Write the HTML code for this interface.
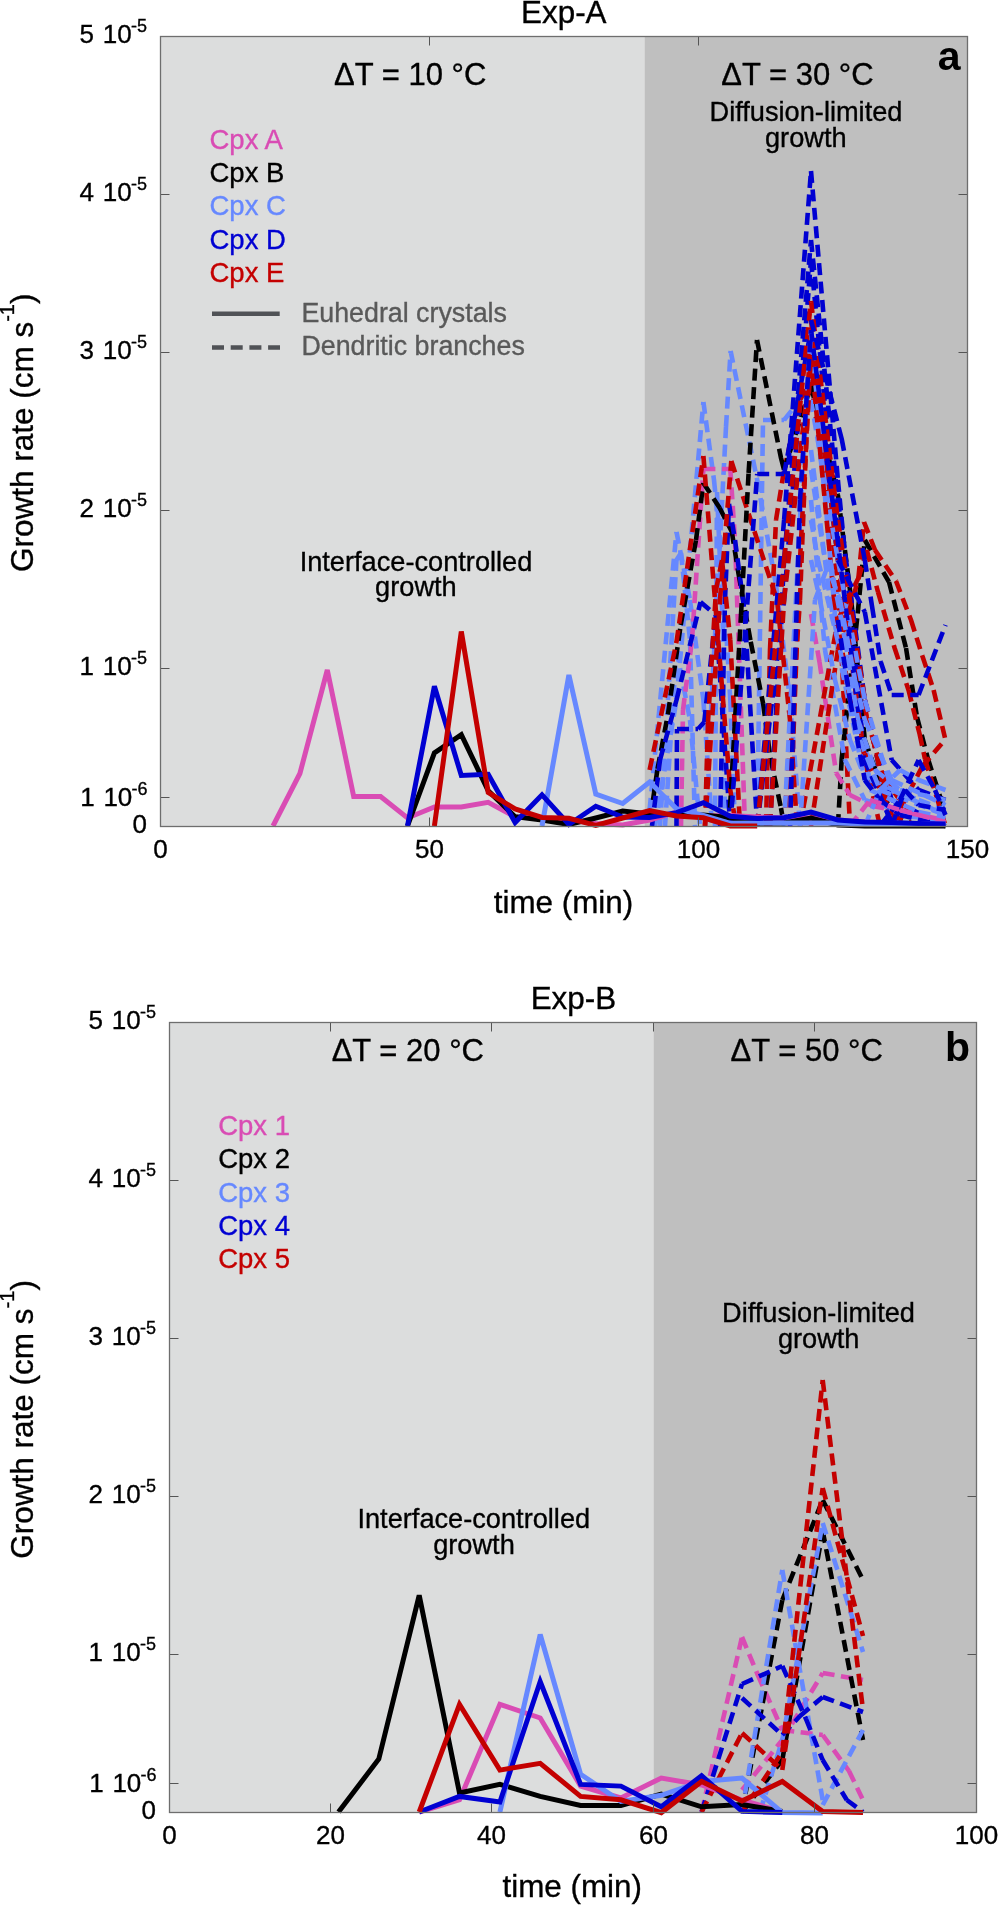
<!DOCTYPE html><html><head><meta charset="utf-8"><style>html,body{margin:0;padding:0;background:#fff;}svg{display:block;}</style></head><body>
<svg width="998" height="1905" viewBox="0 0 998 1905" font-family="'Liberation Sans', sans-serif" style="filter:blur(0.45px)">
<rect x="160.5" y="36.5" width="484.0" height="790.0" fill="#dcdddd"/>
<rect x="644.5" y="36.5" width="323.0" height="790.0" fill="#bfbfbf"/>
<text x="410.2" y="85.2" font-size="31" text-anchor="middle" stroke="#000" stroke-width="0.35">ΔT = 10 °C</text>
<text x="797.5" y="85.3" font-size="31" text-anchor="middle" stroke="#000" stroke-width="0.35">ΔT = 30 °C</text>
<text x="806" y="121" font-size="27.2" text-anchor="middle" stroke="#000" stroke-width="0.35">Diffusion-limited</text>
<text x="805.8" y="147" font-size="27.2" text-anchor="middle" stroke="#000" stroke-width="0.35">growth</text>
<text x="416" y="571.3" font-size="27.2" text-anchor="middle" stroke="#000" stroke-width="0.35">Interface-controlled</text>
<text x="415.9" y="596.4" font-size="27.2" text-anchor="middle" stroke="#000" stroke-width="0.35">growth</text>
<text x="209.5" y="148.6" font-size="27.5" fill="#d94cb4" stroke="#d94cb4" stroke-width="0.35">Cpx A</text>
<text x="209.5" y="181.6" font-size="27.5" stroke="#000" stroke-width="0.35">Cpx B</text>
<text x="209.5" y="215.2" font-size="27.5" fill="#6688ff" stroke="#6688ff" stroke-width="0.35">Cpx C</text>
<text x="209.5" y="248.8" font-size="27.5" fill="#0000d2" stroke="#0000d2" stroke-width="0.35">Cpx D</text>
<text x="209.5" y="282.3" font-size="27.5" fill="#c40000" stroke="#c40000" stroke-width="0.35">Cpx E</text>
<text x="301.4" y="321.9" font-size="26.8" fill="#595959" stroke="#595959" stroke-width="0.35">Euhedral crystals</text>
<text x="301.4" y="355.1" font-size="26.8" fill="#595959" stroke="#595959" stroke-width="0.35">Dendritic branches</text>
<polyline points="212.0,313.8 279.7,313.8" stroke="#505256" stroke-width="4.6"/>
<polyline points="212.0,347.5 280.0,347.5" stroke="#505256" stroke-width="4.6" stroke-dasharray="12 6.7"/>
<g fill="none" stroke-linejoin="miter" stroke-miterlimit="4" stroke-linecap="butt">
<path d="M649.6,810.0L676.5,532.0M676.5,532.0L690.0,600.0M690.0,600.0L703.4,700.0M703.4,700.0L712.0,826.0" stroke="#6688ff" stroke-width="4.6" stroke-dasharray="12 6.5"/>
<path d="M655.0,826.0L676.5,700.0M676.5,700.0L703.4,402.0M703.4,402.0L714.0,480.0M714.0,480.0L722.0,560.0M722.0,560.0L730.3,700.0M730.3,700.0L735.0,826.0" stroke="#6688ff" stroke-width="4.6" stroke-dasharray="12 6.5"/>
<path d="M705.0,826.0L726.0,427.0M726.0,427.0L730.6,351.0M730.6,351.0L757.2,480.0M757.2,480.0L776.0,585.0M776.0,585.0L790.0,700.0M790.0,700.0L800.0,826.0" stroke="#6688ff" stroke-width="4.6" stroke-dasharray="12 6.5"/>
<path d="M660.0,826.0L668.0,700.0M668.0,700.0L676.5,560.0M676.5,560.0L681.0,553.0M681.0,553.0L690.0,640.0M690.0,640.0L695.0,826.0" stroke="#6688ff" stroke-width="4.6" stroke-dasharray="12 6.5"/>
<path d="M665.0,826.0L676.5,650.0M676.5,650.0L690.0,720.0M690.0,720.0L700.0,826.0" stroke="#6688ff" stroke-width="4.6" stroke-dasharray="12 6.5"/>
<path d="M715.0,826.0L717.0,492.0M717.0,492.0L723.0,630.0M723.0,630.0L725.0,826.0" stroke="#6688ff" stroke-width="4.6" stroke-dasharray="12 6.5"/>
<path d="M757.2,826.0L763.0,420.0M763.0,420.0L784.1,420.0M784.1,420.0L800.0,400.0M800.0,400.0L811.0,380.0M811.0,380.0L837.9,600.0M837.9,600.0L864.8,750.0M864.8,750.0L891.7,800.0M891.7,800.0L945.5,826.0" stroke="#6688ff" stroke-width="4.6" stroke-dasharray="12 6.5"/>
<path d="M681.0,826.0L683.0,710.0M683.0,710.0L692.0,640.0M692.0,640.0L703.4,469.0M703.4,469.0L730.3,469.0M730.3,469.0L735.0,540.0M735.0,540.0L745.0,826.0" stroke="#d94cb4" stroke-width="4.6" stroke-dasharray="12 6.5"/>
<path d="M653.0,800.0L657.5,769.0M657.5,769.0L668.0,714.0M668.0,714.0L680.7,625.0M680.7,625.0L696.0,540.0M696.0,540.0L703.4,483.0M703.4,483.0L719.7,508.0M719.7,508.0L731.8,531.7M731.8,531.7L738.5,573.7M738.5,573.7L750.7,641.8M750.7,641.8L763.2,704.0M763.2,704.0L770.4,758.0M770.4,758.0L781.0,808.0M781.0,808.0L784.0,826.0" stroke="#000000" stroke-width="4.6" stroke-dasharray="12 6.5"/>
<path d="M652.0,826.0L660.0,760.0M660.0,760.0L676.5,700.0M676.5,700.0L700.5,602.0M700.5,602.0L715.7,615.0M715.7,615.0L730.3,826.0" stroke="#0000d2" stroke-width="4.6" stroke-dasharray="12 6.5"/>
<path d="M676.5,826.0L677.0,729.0M677.0,729.0L698.0,729.0M698.0,729.0L704.3,722.0M704.3,722.0L715.7,615.0" stroke="#0000d2" stroke-width="4.6" stroke-dasharray="12 6.5"/>
<path d="M720.0,826.0L725.0,600.0M725.0,600.0L729.0,504.0M729.0,504.0L735.0,540.0M735.0,540.0L744.6,612.0M744.6,612.0L757.2,826.0" stroke="#0000d2" stroke-width="4.6" stroke-dasharray="12 6.5"/>
<path d="M649.6,770.0L676.5,642.0M676.5,642.0L703.4,456.0M703.4,456.0L730.3,790.0M730.3,790.0L736.0,826.0" stroke="#c40000" stroke-width="4.6" stroke-dasharray="12 6.5"/>
<path d="M705.0,826.0L720.0,600.0M720.0,600.0L731.3,461.0M731.3,461.0L777.0,600.0M777.0,600.0L790.0,720.0M790.0,720.0L797.0,826.0" stroke="#c40000" stroke-width="4.6" stroke-dasharray="12 6.5"/>
<path d="M705.0,826.0L708.0,722.0M708.0,722.0L716.0,590.0M716.0,590.0L722.0,560.0M722.0,560.0L730.3,640.0M730.3,640.0L740.0,826.0" stroke="#c40000" stroke-width="4.6" stroke-dasharray="12 6.5"/>
<path d="M766.0,826.0L770.0,650.0M770.0,650.0L776.0,520.0M776.0,520.0L784.1,470.0M784.1,470.0L800.0,400.0M800.0,400.0L811.0,380.0M811.0,380.0L837.9,580.0M837.9,580.0L850.0,826.0" stroke="#c40000" stroke-width="4.6" stroke-dasharray="12 6.5"/>
<path d="M729.0,826.0L741.0,615.0M741.0,615.0L748.6,473.0M748.6,473.0L757.0,340.0M757.0,340.0L781.0,458.0M781.0,458.0L784.1,470.0M784.1,470.0L811.0,386.0M811.0,386.0L837.9,495.0M837.9,495.0L851.0,598.0M851.0,598.0L864.8,740.0M864.8,740.0L891.7,815.0M891.7,815.0L918.0,826.0" stroke="#000000" stroke-width="4.6" stroke-dasharray="12 6.5"/>
<path d="M837.9,826.0L841.7,759.0M841.7,759.0L857.7,613.5M857.7,613.5L864.8,540.0M864.8,540.0L889.0,582.0M889.0,582.0L906.0,648.0M906.0,648.0L917.0,717.0M917.0,717.0L928.0,759.0M928.0,759.0L945.0,812.0" stroke="#000000" stroke-width="4.6" stroke-dasharray="12 6.5"/>
<path d="M757.2,826.0L784.1,520.0M784.1,520.0L811.0,171.0M811.0,171.0L837.9,480.0M837.9,480.0L864.8,760.0M864.8,760.0L891.7,823.0" stroke="#0000d2" stroke-width="4.6" stroke-dasharray="12 6.5"/>
<path d="M770.0,826.0L784.1,560.0M784.1,560.0L811.0,240.0M811.0,240.0L837.9,500.0M837.9,500.0L864.8,700.0M864.8,700.0L891.7,826.0" stroke="#0000d2" stroke-width="4.6" stroke-dasharray="12 6.5"/>
<path d="M757.2,826.0L784.1,600.0M784.1,600.0L811.0,260.0M811.0,260.0L837.9,540.0M837.9,540.0L864.8,759.0M864.8,759.0L891.8,823.0" stroke="#0000d2" stroke-width="4.6" stroke-dasharray="12 6.5"/>
<path d="M730.3,826.0L757.2,474.0M757.2,474.0L784.1,474.0M784.1,474.0L811.0,330.0M811.0,330.0L837.9,560.0M837.9,560.0L864.8,700.0M864.8,700.0L891.7,800.0M891.7,800.0L945.5,826.0" stroke="#0000d2" stroke-width="4.6" stroke-dasharray="12 6.5"/>
<path d="M757.2,826.0L784.1,560.0M784.1,560.0L811.0,301.0M811.0,301.0L837.9,520.0M837.9,520.0L864.8,700.0M864.8,700.0L891.7,826.0" stroke="#c40000" stroke-width="4.6" stroke-dasharray="12 6.5"/>
<path d="M770.0,826.0L784.1,600.0M784.1,600.0L811.0,355.0M811.0,355.0L841.7,578.0M841.7,578.0L866.8,717.0M866.8,717.0L883.5,778.0M883.5,778.0L917.0,823.0" stroke="#c40000" stroke-width="4.6" stroke-dasharray="12 6.5"/>
<path d="M784.1,826.0L800.0,600.0M800.0,600.0L811.0,320.0M811.0,320.0L837.9,560.0M837.9,560.0L864.8,760.0M864.8,760.0L880.0,826.0" stroke="#c40000" stroke-width="4.6" stroke-dasharray="12 6.5"/>
<path d="M784.1,826.0L800.0,520.0M800.0,520.0L811.0,330.0M811.0,330.0L837.9,650.0M837.9,650.0L864.8,780.0M864.8,780.0L891.7,815.0M891.7,815.0L945.5,820.0" stroke="#6688ff" stroke-width="4.6" stroke-dasharray="12 6.5"/>
<path d="M811.0,400.0L837.9,560.0M837.9,560.0L864.8,700.0M864.8,700.0L891.7,790.0M891.7,790.0L945.5,815.0" stroke="#6688ff" stroke-width="4.6" stroke-dasharray="12 6.5"/>
<path d="M811.0,450.0L830.0,600.0M830.0,600.0L850.0,700.0M850.0,700.0L870.0,780.0M870.0,780.0L918.6,800.0M918.6,800.0L945.5,810.0" stroke="#6688ff" stroke-width="4.6" stroke-dasharray="12 6.5"/>
<path d="M811.0,500.0L825.0,650.0M825.0,650.0L845.0,760.0M845.0,760.0L864.8,800.0M864.8,800.0L945.5,826.0" stroke="#6688ff" stroke-width="4.6" stroke-dasharray="12 6.5"/>
<path d="M811.0,614.0L819.5,662.0M819.5,662.0L827.8,717.0M827.8,717.0L836.2,773.0M836.2,773.0L850.0,795.0M850.0,795.0L872.3,806.0M872.3,806.0L945.5,820.0" stroke="#d94cb4" stroke-width="4.6" stroke-dasharray="12 6.5"/>
<path d="M800.0,826.0L837.9,620.0M837.9,620.0L858.4,578.0M858.4,578.0L864.0,522.0M864.0,522.0L875.0,550.0M875.0,550.0L896.0,581.0M896.0,581.0L911.0,620.0M911.0,620.0L922.4,656.0M922.4,656.0L933.6,690.0M933.6,690.0L946.0,742.0" stroke="#c40000" stroke-width="4.6" stroke-dasharray="12 6.5"/>
<path d="M811.0,826.0L837.9,650.0M837.9,650.0L866.8,550.0M866.8,550.0L878.0,592.0M878.0,592.0L894.6,648.0M894.6,648.0L908.5,690.0M908.5,690.0L919.6,734.0M919.6,734.0L925.0,759.0M925.0,759.0L945.5,826.0" stroke="#c40000" stroke-width="4.6" stroke-dasharray="12 6.5"/>
<path d="M891.7,826.0L922.0,767.0M922.0,767.0L944.7,740.0" stroke="#c40000" stroke-width="4.6" stroke-dasharray="12 6.5"/>
<path d="M811.0,320.0L841.7,439.0M841.7,439.0L864.8,560.0M864.8,560.0L872.0,606.0M872.0,606.0L880.7,661.7M880.7,661.7L891.7,695.0M891.7,695.0L918.6,695.0M918.6,695.0L945.5,625.0" stroke="#0000d2" stroke-width="4.6" stroke-dasharray="12 6.5"/>
<path d="M837.9,560.0L864.8,612.0M864.8,612.0L891.7,760.0M891.7,760.0L918.6,790.0M918.6,790.0L945.5,800.0" stroke="#0000d2" stroke-width="4.6" stroke-dasharray="12 6.5"/>
<path d="M790.0,826.0L800.0,560.0M800.0,560.0L811.0,355.0M811.0,355.0L834.0,598.0M834.0,598.0L850.0,700.0M850.0,700.0L866.8,760.0M866.8,760.0L891.7,815.0M891.7,815.0L918.0,826.0" stroke="#c40000" stroke-width="4.6" stroke-dasharray="12 6.5"/>
<path d="M790.0,826.0L800.0,500.0M800.0,500.0L811.0,330.0M811.0,330.0L837.0,535.0M837.0,535.0L864.0,759.0M864.0,759.0L892.0,823.0" stroke="#0000d2" stroke-width="4.6" stroke-dasharray="12 6.5"/>
<path d="M811.0,560.0L820.0,600.0M820.0,600.0L835.0,680.0M835.0,680.0L850.0,740.0M850.0,740.0L870.0,790.0M870.0,790.0L918.6,812.0M918.6,812.0L945.5,818.0" stroke="#6688ff" stroke-width="4.6" stroke-dasharray="12 6.5"/>
<path d="M811.0,470.0L825.0,560.0M825.0,560.0L840.0,600.0M840.0,600.0L855.0,680.0M855.0,680.0L864.8,720.0M864.8,720.0L891.7,780.0M891.7,780.0L945.5,805.0" stroke="#6688ff" stroke-width="4.6" stroke-dasharray="12 6.5"/>
<path d="M811.0,520.0L818.0,560.0M818.0,560.0L840.0,650.0M840.0,650.0L860.0,740.0M860.0,740.0L880.0,790.0M880.0,790.0L945.5,815.0" stroke="#6688ff" stroke-width="4.6" stroke-dasharray="12 6.5"/>
<path d="M800.0,826.0L815.0,600.0M815.0,600.0L830.0,560.0M830.0,560.0L845.0,640.0M845.0,640.0L858.0,720.0M858.0,720.0L875.0,770.0M875.0,770.0L900.0,790.0M900.0,790.0L945.5,800.0" stroke="#6688ff" stroke-width="4.6" stroke-dasharray="12 6.5"/>
<path d="M837.9,620.0L850.0,700.0M850.0,700.0L864.8,780.0M864.8,780.0L880.0,800.0M880.0,800.0L900.0,815.0M900.0,815.0L945.5,826.0" stroke="#0000d2" stroke-width="4.6" stroke-dasharray="12 6.5"/>
<path d="M864.8,826.0L880.0,790.0M880.0,790.0L900.0,770.0M900.0,770.0L918.6,780.0M918.6,780.0L945.5,790.0" stroke="#6688ff" stroke-width="4.6" stroke-dasharray="12 6.5"/>
<path d="M880.0,826.0L900.0,800.0M900.0,800.0L918.6,760.0M918.6,760.0L935.0,790.0M935.0,790.0L945.5,815.0" stroke="#0000d2" stroke-width="4.6" stroke-dasharray="12 6.5"/>
<path d="M891.7,826.0L905.0,790.0M905.0,790.0L918.6,805.0M918.6,805.0L945.5,810.0" stroke="#0000d2" stroke-width="4.6" stroke-dasharray="12 6.5"/>
<path d="M850.0,826.0L870.0,800.0M870.0,800.0L900.0,810.0M900.0,810.0L945.5,822.0" stroke="#d94cb4" stroke-width="4.6" stroke-dasharray="12 6.5"/>
<polyline points="273.0,826.0 299.9,773.5 327.3,670.0 353.7,796.5 380.6,796.5 407.5,818.0 434.4,807.0 461.3,807.0 488.2,802.4 515.1,816.7 542.0,818.0 568.9,820.0 595.8,823.5 622.7,825.0 649.6,820.0 676.5,812.0 703.4,816.0 730.3,815.6 757.2,817.0 784.1,818.0 811.0,818.0 837.9,820.0 864.8,822.0 891.7,823.0 918.6,824.0 945.5,824.0" stroke="#d94cb4" stroke-width="5"/>
<polyline points="407.5,826.0 434.4,752.9 461.3,734.6 488.2,790.7 515.1,816.7 542.0,820.0 568.9,824.5 595.8,818.0 622.7,811.0 649.6,814.0 676.5,814.7 703.4,814.9 730.3,817.7 757.2,823.3 784.1,823.0 811.0,818.0 837.9,825.0 864.8,826.0 891.7,826.0 918.6,826.0 945.5,826.0" stroke="#000000" stroke-width="5"/>
<polyline points="542.0,826.0 568.9,675.0 595.8,794.0 622.7,803.5 649.6,782.0 676.5,808.8 703.4,815.3 730.3,823.3 757.2,823.0 784.1,823.0 811.0,823.0 837.9,823.0 864.8,824.0 891.7,824.0 918.6,824.0 945.5,824.0" stroke="#6688ff" stroke-width="5"/>
<polyline points="407.5,826.0 434.4,686.3 461.3,775.5 488.2,774.2 515.1,822.5 542.0,794.8 568.9,824.5 595.8,806.3 622.7,817.0 649.6,817.5 676.5,812.7 703.4,802.7 730.3,816.3 757.2,818.4 784.1,817.7 811.0,812.0 837.9,820.0 864.8,822.0 891.7,822.5 918.6,823.5 945.5,824.0" stroke="#0000d2" stroke-width="5"/>
<polyline points="434.4,826.0 461.3,631.5 488.2,792.5 515.1,809.0 542.0,817.5 568.9,818.3 595.8,825.5 622.7,818.0 649.6,810.5 676.5,816.0 703.4,817.8 730.3,826.0 757.2,826.0" stroke="#c40000" stroke-width="5"/>
</g>
<line x1="429.5" y1="826.5" x2="429.5" y2="817.5" stroke="#555555" stroke-width="1"/>
<line x1="429.5" y1="36.5" x2="429.5" y2="45.5" stroke="#555555" stroke-width="1"/>
<line x1="698.5" y1="826.5" x2="698.5" y2="817.5" stroke="#555555" stroke-width="1"/>
<line x1="698.5" y1="36.5" x2="698.5" y2="45.5" stroke="#555555" stroke-width="1"/>
<line x1="160.5" y1="194.5" x2="169.5" y2="194.5" stroke="#555555" stroke-width="1"/>
<line x1="967.5" y1="194.5" x2="958.5" y2="194.5" stroke="#555555" stroke-width="1"/>
<line x1="160.5" y1="352.5" x2="169.5" y2="352.5" stroke="#555555" stroke-width="1"/>
<line x1="967.5" y1="352.5" x2="958.5" y2="352.5" stroke="#555555" stroke-width="1"/>
<line x1="160.5" y1="510.5" x2="169.5" y2="510.5" stroke="#555555" stroke-width="1"/>
<line x1="967.5" y1="510.5" x2="958.5" y2="510.5" stroke="#555555" stroke-width="1"/>
<line x1="160.5" y1="668.5" x2="169.5" y2="668.5" stroke="#555555" stroke-width="1"/>
<line x1="967.5" y1="668.5" x2="958.5" y2="668.5" stroke="#555555" stroke-width="1"/>
<line x1="160.5" y1="797.5" x2="169.5" y2="797.5" stroke="#555555" stroke-width="1"/>
<line x1="967.5" y1="797.5" x2="958.5" y2="797.5" stroke="#555555" stroke-width="1"/>
<rect x="160.5" y="36.5" width="807.0" height="790.0" fill="none" stroke="#6e6e6e" stroke-width="1.3"/>
<text x="960.5" y="70" font-size="41" text-anchor="end" font-weight="bold">a</text>
<text x="94.0" y="43" font-size="26" text-anchor="end" stroke="#000" stroke-width="0.35">5</text>
<text x="131.7" y="43" font-size="26" text-anchor="end" stroke="#000" stroke-width="0.35">10</text>
<text x="131.0" y="32" font-size="18" stroke="#000" stroke-width="0.35">-5</text>
<text x="94.0" y="201" font-size="26" text-anchor="end" stroke="#000" stroke-width="0.35">4</text>
<text x="131.7" y="201" font-size="26" text-anchor="end" stroke="#000" stroke-width="0.35">10</text>
<text x="131.0" y="190" font-size="18" stroke="#000" stroke-width="0.35">-5</text>
<text x="94.0" y="359" font-size="26" text-anchor="end" stroke="#000" stroke-width="0.35">3</text>
<text x="131.7" y="359" font-size="26" text-anchor="end" stroke="#000" stroke-width="0.35">10</text>
<text x="131.0" y="348" font-size="18" stroke="#000" stroke-width="0.35">-5</text>
<text x="94.0" y="517" font-size="26" text-anchor="end" stroke="#000" stroke-width="0.35">2</text>
<text x="131.7" y="517" font-size="26" text-anchor="end" stroke="#000" stroke-width="0.35">10</text>
<text x="131.0" y="506" font-size="18" stroke="#000" stroke-width="0.35">-5</text>
<text x="94.0" y="675" font-size="26" text-anchor="end" stroke="#000" stroke-width="0.35">1</text>
<text x="131.7" y="675" font-size="26" text-anchor="end" stroke="#000" stroke-width="0.35">10</text>
<text x="131.0" y="664" font-size="18" stroke="#000" stroke-width="0.35">-5</text>
<text x="94.6" y="806.4" font-size="26" text-anchor="end" stroke="#000" stroke-width="0.35">1</text>
<text x="132.29999999999998" y="806.4" font-size="26" text-anchor="end" stroke="#000" stroke-width="0.35">10</text>
<text x="131.6" y="795.4" font-size="18" stroke="#000" stroke-width="0.35">-6</text>
<text x="147.0" y="833" font-size="26" text-anchor="end" stroke="#000" stroke-width="0.35">0</text>
<text x="160.5" y="858" font-size="26" text-anchor="middle" stroke="#000" stroke-width="0.35">0</text>
<text x="429.5" y="858" font-size="26" text-anchor="middle" stroke="#000" stroke-width="0.35">50</text>
<text x="698.5" y="858" font-size="26" text-anchor="middle" stroke="#000" stroke-width="0.35">100</text>
<text x="967.5" y="858" font-size="26" text-anchor="middle" stroke="#000" stroke-width="0.35">150</text>
<text transform="translate(33.3,432.8) rotate(-90)" font-size="31.5" text-anchor="middle" stroke="#000" stroke-width="0.35">Growth rate (cm s<tspan font-size="20" dy="-19">-1</tspan><tspan dy="19">)</tspan></text>
<text x="563.5" y="913.3" font-size="31.4" text-anchor="middle" stroke="#000" stroke-width="0.35">time (min)</text>
<text x="563.8" y="22.5" font-size="31.4" text-anchor="middle" stroke="#000" stroke-width="0.35">Exp-A</text>
<rect x="169.5" y="1022.5" width="484.0" height="790.0" fill="#dcdddd"/>
<rect x="653.5" y="1022.5" width="323.0" height="790.0" fill="#bfbfbf"/>
<text x="407.8" y="1060.7" font-size="31" text-anchor="middle" stroke="#000" stroke-width="0.35">ΔT = 20 °C</text>
<text x="806.7" y="1060.5" font-size="31" text-anchor="middle" stroke="#000" stroke-width="0.35">ΔT = 50 °C</text>
<text x="818.5" y="1322" font-size="27.2" text-anchor="middle" stroke="#000" stroke-width="0.35">Diffusion-limited</text>
<text x="818.7" y="1348.4" font-size="27.2" text-anchor="middle" stroke="#000" stroke-width="0.35">growth</text>
<text x="473.8" y="1527.6" font-size="27.2" text-anchor="middle" stroke="#000" stroke-width="0.35">Interface-controlled</text>
<text x="474" y="1553.9" font-size="27.2" text-anchor="middle" stroke="#000" stroke-width="0.35">growth</text>
<text x="218.2" y="1134.6" font-size="27.5" fill="#d94cb4" stroke="#d94cb4" stroke-width="0.35">Cpx 1</text>
<text x="218.2" y="1168.1" font-size="27.5" stroke="#000" stroke-width="0.35">Cpx 2</text>
<text x="218.2" y="1201.7" font-size="27.5" fill="#6688ff" stroke="#6688ff" stroke-width="0.35">Cpx 3</text>
<text x="218.2" y="1234.8" font-size="27.5" fill="#0000d2" stroke="#0000d2" stroke-width="0.35">Cpx 4</text>
<text x="218.2" y="1268.3" font-size="27.5" fill="#c40000" stroke="#c40000" stroke-width="0.35">Cpx 5</text>
<g fill="none" stroke-linejoin="miter" stroke-miterlimit="4" stroke-linecap="butt">
<path d="M701.6,1812.0L742.0,1637.0M742.0,1637.0L757.8,1675.0M757.8,1675.0L782.3,1730.0M782.3,1730.0L822.7,1735.0M822.7,1735.0L849.0,1771.0M849.0,1771.0L863.0,1800.0" stroke="#d94cb4" stroke-width="4.6" stroke-dasharray="12 6.5"/>
<path d="M742.0,1790.0L782.3,1740.0M782.3,1740.0L822.7,1673.0M822.7,1673.0L863.0,1680.0" stroke="#d94cb4" stroke-width="4.6" stroke-dasharray="12 6.5"/>
<path d="M742.0,1812.0L782.3,1600.0M782.3,1600.0L822.7,1500.0M822.7,1500.0L863.0,1580.0" stroke="#000000" stroke-width="4.6" stroke-dasharray="12 6.5"/>
<path d="M742.0,1812.0L782.3,1760.0M782.3,1760.0L822.7,1531.0M822.7,1531.0L863.0,1740.0" stroke="#000000" stroke-width="4.6" stroke-dasharray="12 6.5"/>
<path d="M742.0,1812.0L782.3,1570.0M782.3,1570.0L822.7,1800.0" stroke="#6688ff" stroke-width="4.6" stroke-dasharray="12 6.5"/>
<path d="M760.0,1812.0L782.3,1740.0M782.3,1740.0L822.7,1523.0M822.7,1523.0L863.0,1652.0" stroke="#6688ff" stroke-width="4.6" stroke-dasharray="12 6.5"/>
<path d="M822.7,1805.0L863.0,1730.0" stroke="#6688ff" stroke-width="4.6" stroke-dasharray="12 6.5"/>
<path d="M701.6,1812.0L742.0,1684.0M742.0,1684.0L782.3,1666.0M782.3,1666.0L806.0,1719.0M806.0,1719.0L822.7,1760.0M822.7,1760.0L846.8,1800.0M846.8,1800.0L863.0,1812.0" stroke="#0000d2" stroke-width="4.6" stroke-dasharray="12 6.5"/>
<path d="M742.0,1698.0L782.3,1735.0M782.3,1735.0L800.0,1716.0M800.0,1716.0L822.7,1697.0M822.7,1697.0L863.0,1712.0" stroke="#0000d2" stroke-width="4.6" stroke-dasharray="12 6.5"/>
<path d="M701.6,1812.0L742.0,1733.0M742.0,1733.0L782.3,1770.0M782.3,1770.0L822.7,1488.0M822.7,1488.0L863.0,1636.0" stroke="#c40000" stroke-width="4.6" stroke-dasharray="12 6.5"/>
<path d="M742.0,1812.0L782.3,1752.0M782.3,1752.0L822.7,1380.0M822.7,1380.0L863.0,1710.0" stroke="#c40000" stroke-width="4.6" stroke-dasharray="12 6.5"/>
<polyline points="419.2,1812.0 459.5,1799.8 499.9,1704.4 540.2,1718.0 580.6,1786.1 620.9,1798.0 661.3,1778.0 701.6,1785.0 742.0,1800.0 782.3,1812.0" stroke="#d94cb4" stroke-width="5"/>
<polyline points="338.5,1812.0 378.8,1759.0 419.2,1595.3 459.5,1793.0 499.9,1784.4 540.2,1796.4 580.6,1805.5 620.9,1805.5 661.3,1794.0 701.6,1806.8 742.0,1804.5 782.3,1811.4" stroke="#000000" stroke-width="5"/>
<polyline points="499.9,1812.0 540.2,1634.5 580.6,1774.2 620.9,1801.5 661.3,1795.3 701.6,1781.5 742.0,1778.0 782.3,1812.6 822.7,1813.0" stroke="#6688ff" stroke-width="5"/>
<polyline points="419.2,1812.0 459.5,1796.4 499.9,1802.1 540.2,1681.5 580.6,1784.4 620.9,1786.1 661.3,1806.8 701.6,1775.7 742.0,1811.4 782.3,1812.6" stroke="#0000d2" stroke-width="5"/>
<polyline points="419.2,1812.0 459.5,1704.4 499.9,1770.1 540.2,1763.3 580.6,1796.4 620.9,1799.8 661.3,1812.6 701.6,1781.5 742.0,1801.0 782.3,1781.5 822.7,1811.4 863.0,1812.6" stroke="#c40000" stroke-width="5"/>
</g>
<line x1="330.5" y1="1812.5" x2="330.5" y2="1803.5" stroke="#555555" stroke-width="1"/>
<line x1="330.5" y1="1022.5" x2="330.5" y2="1031.5" stroke="#555555" stroke-width="1"/>
<line x1="491.5" y1="1812.5" x2="491.5" y2="1803.5" stroke="#555555" stroke-width="1"/>
<line x1="491.5" y1="1022.5" x2="491.5" y2="1031.5" stroke="#555555" stroke-width="1"/>
<line x1="653.5" y1="1812.5" x2="653.5" y2="1803.5" stroke="#555555" stroke-width="1"/>
<line x1="653.5" y1="1022.5" x2="653.5" y2="1031.5" stroke="#555555" stroke-width="1"/>
<line x1="814.5" y1="1812.5" x2="814.5" y2="1803.5" stroke="#555555" stroke-width="1"/>
<line x1="814.5" y1="1022.5" x2="814.5" y2="1031.5" stroke="#555555" stroke-width="1"/>
<line x1="169.5" y1="1180.5" x2="178.5" y2="1180.5" stroke="#555555" stroke-width="1"/>
<line x1="976.5" y1="1180.5" x2="967.5" y2="1180.5" stroke="#555555" stroke-width="1"/>
<line x1="169.5" y1="1338.5" x2="178.5" y2="1338.5" stroke="#555555" stroke-width="1"/>
<line x1="976.5" y1="1338.5" x2="967.5" y2="1338.5" stroke="#555555" stroke-width="1"/>
<line x1="169.5" y1="1496.5" x2="178.5" y2="1496.5" stroke="#555555" stroke-width="1"/>
<line x1="976.5" y1="1496.5" x2="967.5" y2="1496.5" stroke="#555555" stroke-width="1"/>
<line x1="169.5" y1="1654.5" x2="178.5" y2="1654.5" stroke="#555555" stroke-width="1"/>
<line x1="976.5" y1="1654.5" x2="967.5" y2="1654.5" stroke="#555555" stroke-width="1"/>
<line x1="169.5" y1="1783.5" x2="178.5" y2="1783.5" stroke="#555555" stroke-width="1"/>
<line x1="976.5" y1="1783.5" x2="967.5" y2="1783.5" stroke="#555555" stroke-width="1"/>
<rect x="169.5" y="1022.5" width="807.0" height="790.0" fill="none" stroke="#6e6e6e" stroke-width="1.3"/>
<text x="970" y="1060.5" font-size="41" text-anchor="end" font-weight="bold">b</text>
<text x="103.0" y="1029" font-size="26" text-anchor="end" stroke="#000" stroke-width="0.35">5</text>
<text x="140.7" y="1029" font-size="26" text-anchor="end" stroke="#000" stroke-width="0.35">10</text>
<text x="140.0" y="1018" font-size="18" stroke="#000" stroke-width="0.35">-5</text>
<text x="103.0" y="1187" font-size="26" text-anchor="end" stroke="#000" stroke-width="0.35">4</text>
<text x="140.7" y="1187" font-size="26" text-anchor="end" stroke="#000" stroke-width="0.35">10</text>
<text x="140.0" y="1176" font-size="18" stroke="#000" stroke-width="0.35">-5</text>
<text x="103.0" y="1345" font-size="26" text-anchor="end" stroke="#000" stroke-width="0.35">3</text>
<text x="140.7" y="1345" font-size="26" text-anchor="end" stroke="#000" stroke-width="0.35">10</text>
<text x="140.0" y="1334" font-size="18" stroke="#000" stroke-width="0.35">-5</text>
<text x="103.0" y="1503" font-size="26" text-anchor="end" stroke="#000" stroke-width="0.35">2</text>
<text x="140.7" y="1503" font-size="26" text-anchor="end" stroke="#000" stroke-width="0.35">10</text>
<text x="140.0" y="1492" font-size="18" stroke="#000" stroke-width="0.35">-5</text>
<text x="103.0" y="1661" font-size="26" text-anchor="end" stroke="#000" stroke-width="0.35">1</text>
<text x="140.7" y="1661" font-size="26" text-anchor="end" stroke="#000" stroke-width="0.35">10</text>
<text x="140.0" y="1650" font-size="18" stroke="#000" stroke-width="0.35">-5</text>
<text x="103.6" y="1792.4" font-size="26" text-anchor="end" stroke="#000" stroke-width="0.35">1</text>
<text x="141.29999999999998" y="1792.4" font-size="26" text-anchor="end" stroke="#000" stroke-width="0.35">10</text>
<text x="140.6" y="1781.4" font-size="18" stroke="#000" stroke-width="0.35">-6</text>
<text x="156.0" y="1819" font-size="26" text-anchor="end" stroke="#000" stroke-width="0.35">0</text>
<text x="169.5" y="1844" font-size="26" text-anchor="middle" stroke="#000" stroke-width="0.35">0</text>
<text x="330.5" y="1844" font-size="26" text-anchor="middle" stroke="#000" stroke-width="0.35">20</text>
<text x="491.5" y="1844" font-size="26" text-anchor="middle" stroke="#000" stroke-width="0.35">40</text>
<text x="653.5" y="1844" font-size="26" text-anchor="middle" stroke="#000" stroke-width="0.35">60</text>
<text x="814.5" y="1844" font-size="26" text-anchor="middle" stroke="#000" stroke-width="0.35">80</text>
<text x="976.5" y="1844" font-size="26" text-anchor="middle" stroke="#000" stroke-width="0.35">100</text>
<text transform="translate(33.3,1419.4) rotate(-90)" font-size="31.5" text-anchor="middle" stroke="#000" stroke-width="0.35">Growth rate (cm s<tspan font-size="20" dy="-19">-1</tspan><tspan dy="19">)</tspan></text>
<text x="572.2" y="1897.3" font-size="31.4" text-anchor="middle" stroke="#000" stroke-width="0.35">time (min)</text>
<text x="573.4" y="1009" font-size="31.4" text-anchor="middle" stroke="#000" stroke-width="0.35">Exp-B</text>
</svg></body></html>
